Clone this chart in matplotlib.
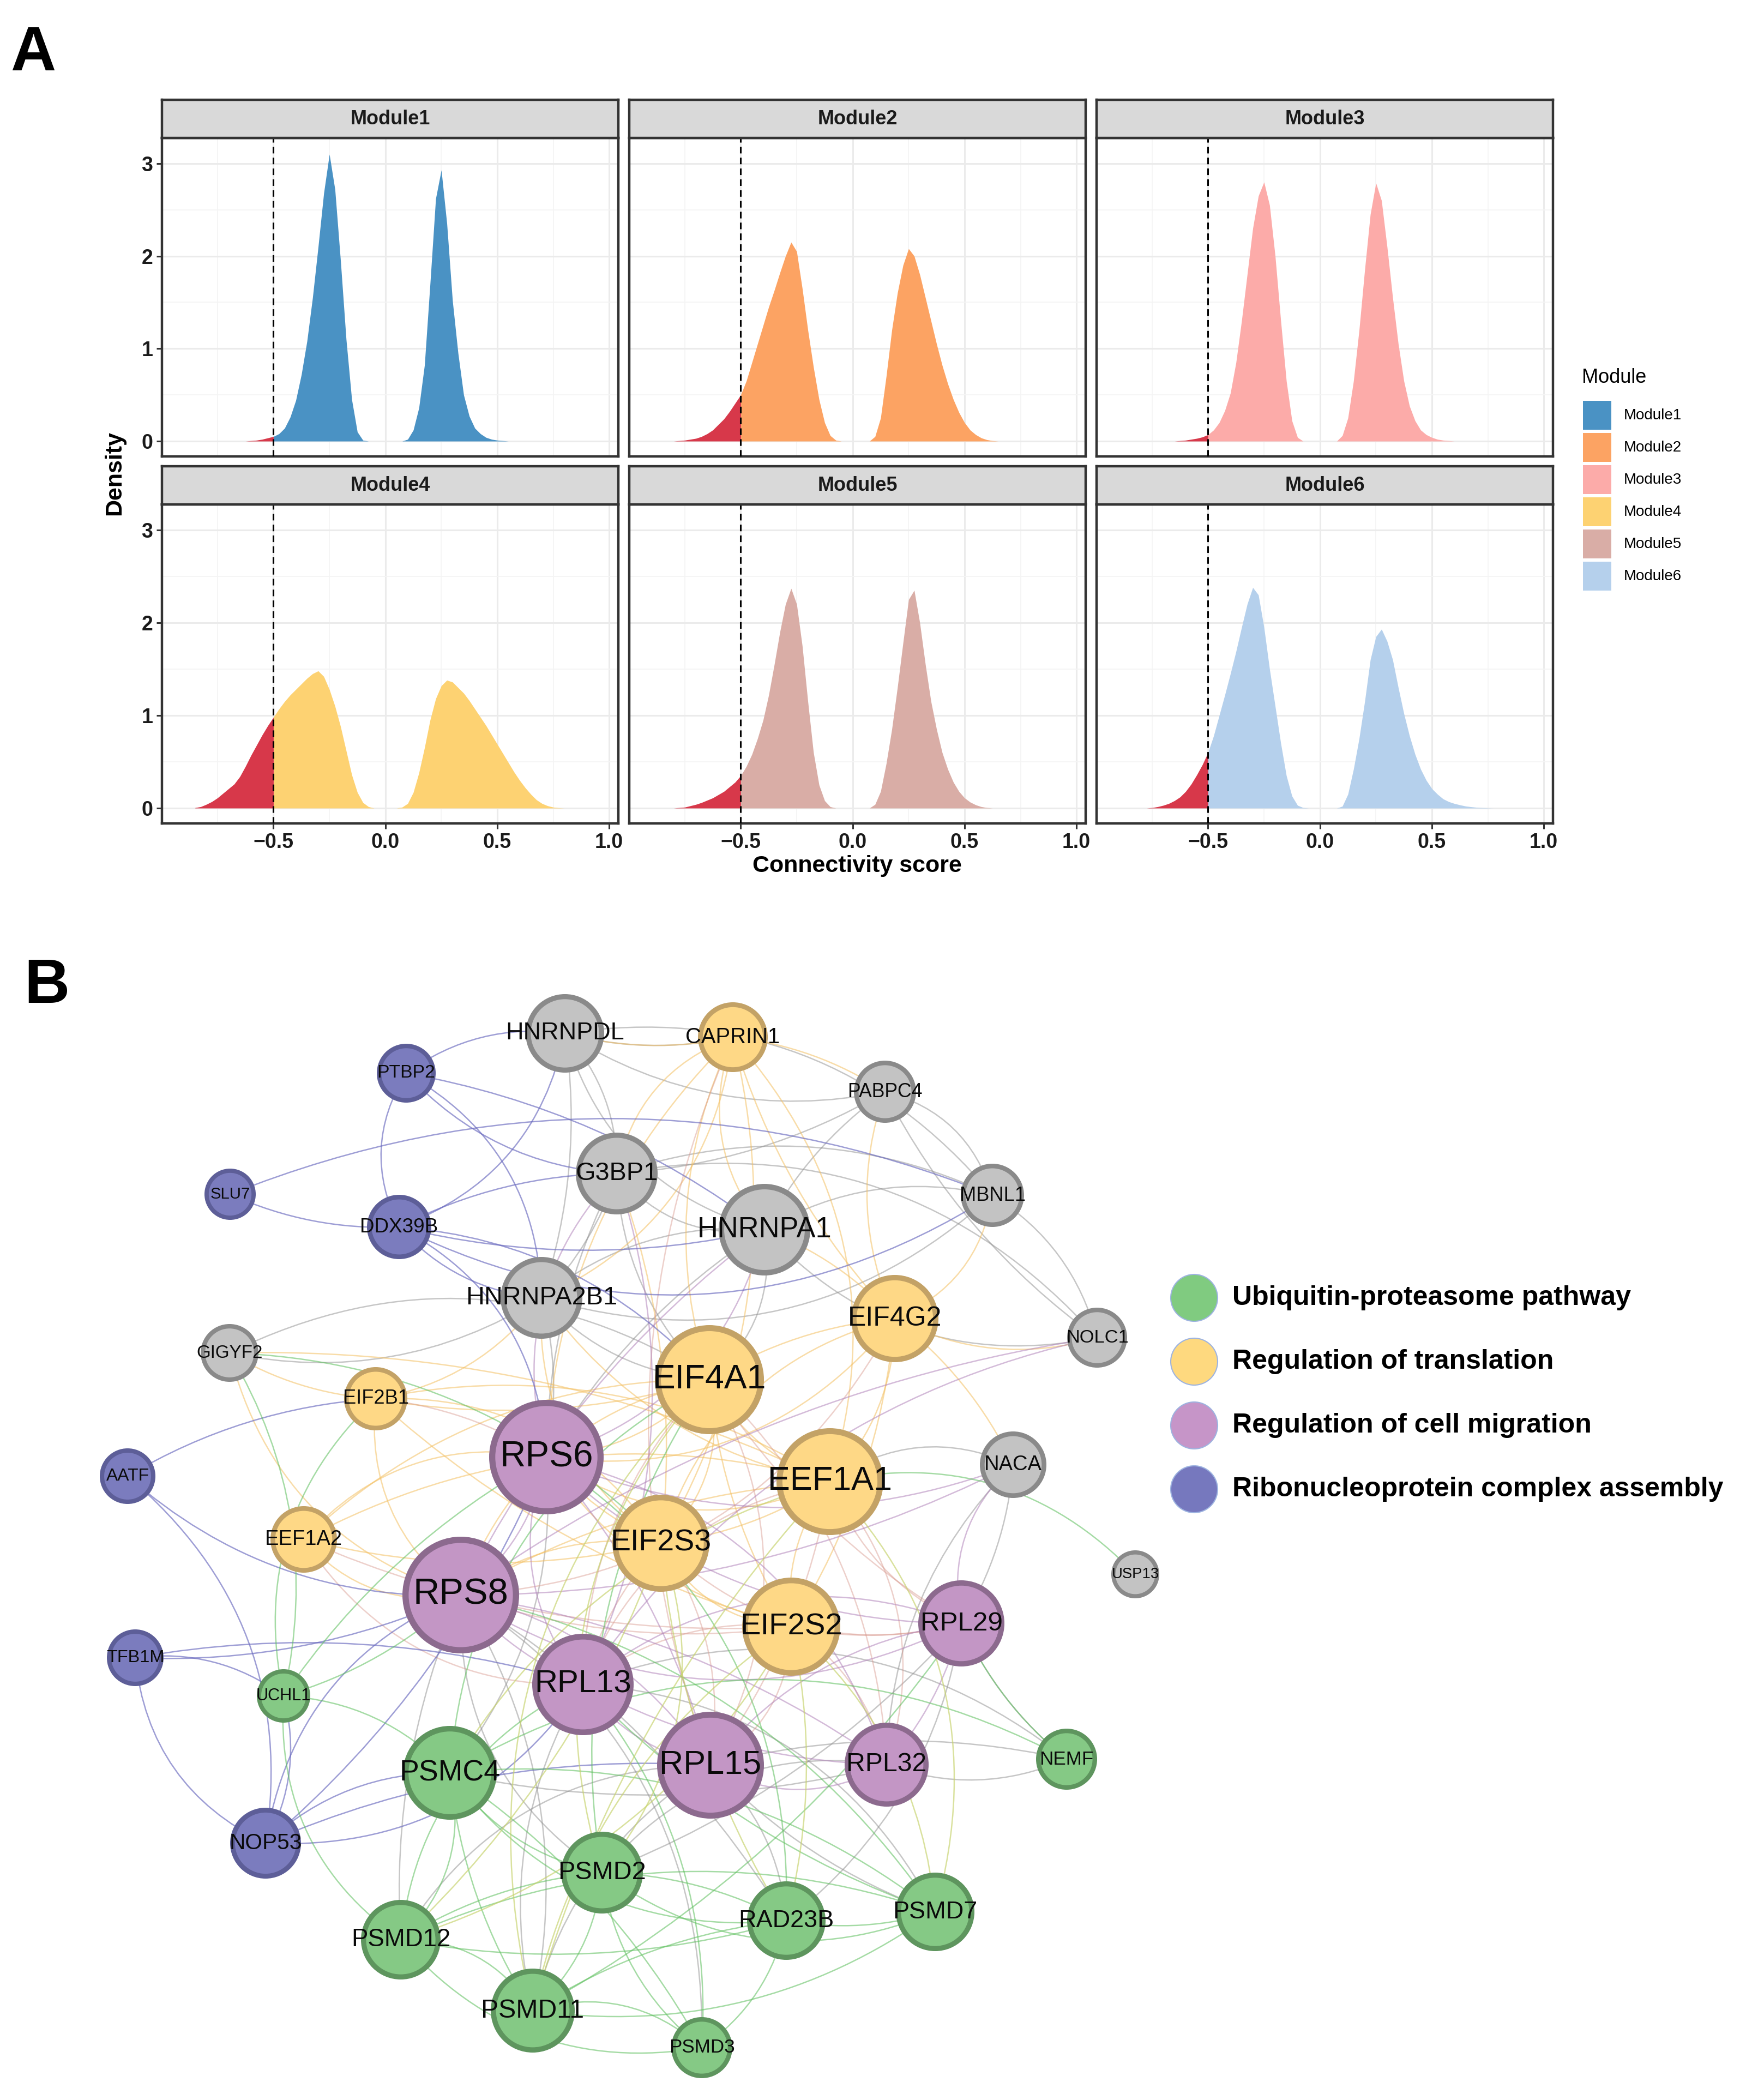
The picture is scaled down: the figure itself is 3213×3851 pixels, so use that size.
import numpy as np
import matplotlib
matplotlib.use("Agg")
import matplotlib.pyplot as plt
from matplotlib.patches import Circle, FancyArrowPatch, Rectangle

plt.rcParams['font.family'] = ['Liberation Sans', 'DejaVu Sans']

W, H = 3213, 3851
fig = plt.figure(figsize=(W / 100, H / 100), dpi=100)

# ------------------------------------------------------------------ data A
score_grid = np.linspace(-0.85, 0.80, 67)
modules = ["Module1", "Module2", "Module3", "Module4", "Module5", "Module6"]
module_colors = ["#4A92C4", "#FCA363", "#FCABA9", "#FDD272", "#D9ADA6", "#B5D0EC"]
threshold = -0.5
tail_color = "#D7384A"

dens_m1 = [0, 0, 0, 0, 0, 0, 0, 0, 0, 0,
           0.005, 0.01, 0.02, 0.035, 0.05, 0.08, 0.14, 0.26, 0.44, 0.72,
           1.08, 1.55, 2.10, 2.68, 3.10, 2.72, 1.95, 1.10, 0.45, 0.10,
           0.01, 0, 0, 0, 0, 0, 0, 0, 0.02, 0.12,
           0.36, 0.82, 1.70, 2.62, 2.93, 2.35, 1.52, 0.95, 0.50, 0.27,
           0.14, 0.08, 0.04, 0.02, 0.01, 0.005, 0, 0, 0, 0,
           0, 0, 0, 0, 0, 0, 0]
dens_m2 = [0, 0, 0, 0.005, 0.01, 0.02, 0.03, 0.05, 0.08, 0.12,
           0.18, 0.24, 0.32, 0.41, 0.50, 0.65, 0.85, 1.05, 1.25, 1.45,
           1.63, 1.82, 2.00, 2.15, 2.05, 1.65, 1.20, 0.80, 0.45, 0.20,
           0.06, 0.01, 0, 0, 0, 0, 0, 0, 0.05, 0.25,
           0.70, 1.20, 1.60, 1.90, 2.08, 2.00, 1.80, 1.55, 1.30, 1.05,
           0.82, 0.62, 0.45, 0.31, 0.20, 0.12, 0.07, 0.035, 0.015, 0.005,
           0, 0, 0, 0, 0, 0, 0]
dens_m3 = [0, 0, 0, 0, 0, 0, 0, 0, 0, 0.005,
           0.01, 0.02, 0.03, 0.045, 0.07, 0.12, 0.20, 0.33, 0.52, 0.85,
           1.30, 1.80, 2.30, 2.65, 2.80, 2.55, 2.00, 1.30, 0.65, 0.22,
           0.04, 0, 0, 0, 0, 0, 0, 0, 0.06, 0.25,
           0.65, 1.20, 1.85, 2.45, 2.79, 2.60, 2.10, 1.55, 1.05, 0.65,
           0.38, 0.22, 0.12, 0.07, 0.04, 0.02, 0.01, 0.005, 0, 0,
           0, 0, 0, 0, 0, 0, 0]
dens_m4 = [0.005, 0.015, 0.04, 0.07, 0.11, 0.16, 0.21, 0.26, 0.34, 0.45,
           0.57, 0.68, 0.79, 0.89, 0.98, 1.07, 1.15, 1.22, 1.28, 1.34,
           1.40, 1.45, 1.48, 1.42, 1.28, 1.10, 0.88, 0.62, 0.36, 0.17,
           0.06, 0.015, 0, 0, 0, 0, 0, 0.01, 0.05, 0.17,
           0.38, 0.65, 0.95, 1.18, 1.32, 1.38, 1.36, 1.30, 1.24, 1.16,
           1.07, 0.98, 0.89, 0.79, 0.69, 0.59, 0.49, 0.39, 0.30, 0.22,
           0.15, 0.09, 0.05, 0.025, 0.01, 0.003, 0]
dens_m5 = [0, 0, 0, 0.005, 0.01, 0.025, 0.04, 0.06, 0.085, 0.11,
           0.145, 0.18, 0.23, 0.28, 0.35, 0.45, 0.58, 0.75, 0.95, 1.22,
           1.55, 1.90, 2.20, 2.37, 2.20, 1.75, 1.15, 0.60, 0.25, 0.08,
           0.015, 0, 0, 0, 0, 0, 0, 0, 0.04, 0.18,
           0.48, 0.85, 1.30, 1.78, 2.25, 2.35, 2.00, 1.55, 1.15, 0.85,
           0.60, 0.42, 0.28, 0.18, 0.11, 0.065, 0.035, 0.015, 0.005, 0,
           0, 0, 0, 0, 0, 0, 0]
dens_m6 = [0, 0, 0, 0, 0.005, 0.015, 0.03, 0.05, 0.08, 0.12,
           0.18, 0.26, 0.36, 0.47, 0.60, 0.78, 1.00, 1.22, 1.45, 1.69,
           1.95, 2.20, 2.38, 2.30, 1.95, 1.50, 1.10, 0.70, 0.35, 0.13,
           0.03, 0.005, 0, 0, 0, 0, 0, 0, 0.02, 0.15,
           0.42, 0.75, 1.15, 1.60, 1.85, 1.93, 1.80, 1.60, 1.30, 1.02,
           0.78, 0.58, 0.42, 0.30, 0.21, 0.15, 0.10, 0.07, 0.05, 0.035,
           0.022, 0.014, 0.008, 0.004, 0.002, 0, 0]
densities = [dens_m1, dens_m2, dens_m3, dens_m4, dens_m5, dens_m6]

x_ticks = [-0.5, 0.0, 0.5, 1.0]
x_tick_labels = ["\u22120.5", "0.0", "0.5", "1.0"]
y_ticks = [0, 1, 2, 3]
y_tick_labels = ["0", "1", "2", "3"]

# ------------------------------------------------------------------ data B
node_names = ["HNRNPDL", "CAPRIN1", "PTBP2", "PABPC4", "SLU7", "G3BP1", "MBNL1",
              "HNRNPA1", "DDX39B", "HNRNPA2B1", "EIF4G2", "NOLC1", "GIGYF2",
              "EIF4A1", "EIF2B1", "RPS6", "NACA", "EEF1A1", "AATF", "EEF1A2",
              "EIF2S3", "USP13", "RPS8", "EIF2S2", "RPL29", "TFB1M", "UCHL1",
              "RPL13", "RPL15", "RPL32", "NEMF", "PSMC4", "NOP53", "PSMD2",
              "PSMD12", "RAD23B", "PSMD7", "PSMD11", "PSMD3"]
node_x = [1036, 1344, 745, 1623, 422, 1131, 1820, 1402, 732, 993, 1641, 2012, 421,
          1301, 689, 1002, 1858, 1522, 234, 557, 1212, 2082, 845, 1451, 1763,
          248, 520, 1069, 1303, 1626, 1956, 825, 487, 1104, 735, 1442, 1715,
          977, 1287]
node_y = [1895, 1902, 1968, 2002, 2190, 2152, 2192, 2255, 2250, 2380, 2418, 2453,
          2481, 2530, 2565, 2672, 2686, 2717, 2707, 2823, 2830, 2887, 2925, 2983,
          2977, 3040, 3110, 3089, 3237, 3236, 3226, 3251, 3380, 3434, 3557, 3522,
          3506, 3687, 3755]
node_size = [72, 64, 54, 57, 47, 75, 58, 84, 59, 75, 80, 55, 53, 100, 58, 105, 61,
             98, 51, 61, 89, 44, 107, 90, 79, 52, 49, 93, 98, 77, 56, 86, 65, 75,
             73, 72, 72, 77, 56]
node_group = ["other", "trans", "rnp", "other", "rnp", "other", "other", "other",
              "rnp", "other", "trans", "other", "other", "trans", "trans", "mig",
              "other", "trans", "rnp", "trans", "trans", "other", "mig", "trans",
              "mig", "rnp", "ubi", "mig", "mig", "mig", "ubi", "ubi", "rnp", "ubi",
              "ubi", "ubi", "ubi", "ubi", "ubi"]

edges_gray = [
    ("HNRNPDL", "CAPRIN1"), ("HNRNPDL", "G3BP1"), ("HNRNPDL", "HNRNPA1"),
    ("HNRNPDL", "HNRNPA2B1"), ("HNRNPDL", "PABPC4"), ("HNRNPDL", "MBNL1"),
    ("G3BP1", "PABPC4"), ("G3BP1", "MBNL1"), ("G3BP1", "HNRNPA1"),
    ("G3BP1", "HNRNPA2B1"), ("G3BP1", "EIF4A1"), ("G3BP1", "NOLC1"), ("G3BP1", "RPS6"),
    ("HNRNPA1", "MBNL1"), ("HNRNPA1", "NOLC1"), ("HNRNPA1", "PABPC4"),
    ("HNRNPA1", "HNRNPA2B1"), ("HNRNPA1", "EIF4A1"), ("HNRNPA1", "RPS6"),
    ("HNRNPA2B1", "GIGYF2"), ("HNRNPA2B1", "MBNL1"), ("HNRNPA2B1", "RPS6"),
    ("HNRNPA2B1", "EIF4A1"), ("PABPC4", "MBNL1"), ("PABPC4", "NOLC1"), ("MBNL1", "NOLC1"),
    ("NACA", "EEF1A1"), ("NACA", "RPL29"), ("NACA", "RPL32"), ("GIGYF2", "EIF4A1"),
    ("RPS8", "PSMD12"), ("RPS8", "PSMD11"), ("RPS8", "PSMD2"), ("RPS8", "RAD23B"),
    ("RPL13", "PSMD11"), ("RPL13", "PSMD7"), ("RPL15", "PSMD7"), ("RPL15", "RAD23B"),
    ("RPL15", "PSMD12"), ("RPL15", "NEMF"), ("RPL32", "NEMF"), ("RPL13", "NEMF"),
    ("RPL29", "NEMF"), ("RPS6", "PSMC4"), ("RPL32", "PSMD2"), ("RPL29", "PSMD2"),
    ("RPL15", "PSMD11"), ("RPS8", "PSMD3"), ("PSMC4", "RPL32"), ("RPL29", "RAD23B"),
]
edges_yellow = [
    ("CAPRIN1", "G3BP1"), ("CAPRIN1", "HNRNPDL"), ("CAPRIN1", "EIF4A1"),
    ("CAPRIN1", "EEF1A1"), ("CAPRIN1", "EIF4G2"), ("CAPRIN1", "EIF2S3"),
    ("CAPRIN1", "HNRNPA1"), ("CAPRIN1", "PABPC4"), ("CAPRIN1", "RPS6"),
    ("CAPRIN1", "HNRNPA2B1"), ("EIF4G2", "EIF4A1"), ("EIF4G2", "EEF1A1"),
    ("EIF4G2", "EIF2S3"), ("EIF4G2", "EIF2S2"), ("EIF4G2", "NOLC1"), ("EIF4G2", "RPS6"),
    ("EIF4G2", "HNRNPA1"), ("EIF4G2", "PABPC4"), ("EIF4G2", "MBNL1"), ("EIF4G2", "NACA"),
    ("EIF4A1", "EEF1A1"), ("EIF4A1", "EIF2S3"), ("EIF4A1", "EIF2S2"), ("EIF4A1", "RPS6"),
    ("EIF4A1", "RPS8"), ("EIF4A1", "EIF2B1"), ("EIF4A1", "EEF1A2"),
    ("EIF2B1", "EIF2S3"), ("EIF2B1", "EIF2S2"), ("EIF2B1", "EEF1A1"), ("EIF2B1", "RPS8"),
    ("EIF2B1", "GIGYF2"), ("EIF2B1", "HNRNPA2B1"), ("EEF1A2", "RPS6"),
    ("EEF1A2", "EIF2S3"), ("EEF1A2", "EEF1A1"), ("EEF1A2", "RPS8"),
    ("EEF1A1", "EIF2S3"), ("EEF1A1", "EIF2S2"), ("EEF1A1", "RPS6"), ("EEF1A1", "RPS8"),
    ("EEF1A1", "HNRNPA2B1"), ("EIF2S3", "EIF2S2"), ("EIF2S3", "RPS6"),
    ("EIF2S3", "RPS8"), ("EIF2S3", "HNRNPA2B1"), ("EIF2S3", "G3BP1"),
    ("EIF2S2", "RPS6"), ("GIGYF2", "RPS8"), ("GIGYF2", "EEF1A1"),
]
edges_rose = [
    ("EIF4A1", "RPL13"), ("EIF4A1", "RPL15"), ("EIF4A1", "RPL29"), ("EIF4A1", "RPL32"),
    ("EEF1A1", "RPL13"), ("EEF1A1", "RPL15"), ("EEF1A1", "RPL29"), ("EEF1A1", "RPL32"),
    ("EIF2S3", "RPL13"), ("EIF2S3", "RPL15"), ("EIF2S3", "RPL29"),
    ("EIF2S2", "RPS8"), ("EIF2S2", "RPL13"), ("EIF2S2", "RPL15"), ("EIF2S2", "RPL29"),
    ("EIF2S2", "RPL32"), ("EEF1A2", "RPL13"), ("EIF2B1", "RPS6"), ("CAPRIN1", "RPL15"),
    ("EIF4G2", "RPS8"), ("EEF1A2", "EIF2S2"),
]
edges_pink = [
    ("RPS6", "RPS8"), ("RPS6", "RPL13"), ("RPS6", "RPL15"), ("RPS6", "RPL29"),
    ("RPS6", "RPL32"), ("RPS8", "RPL13"), ("RPS8", "RPL15"), ("RPS8", "RPL29"),
    ("RPS8", "RPL32"), ("RPL13", "RPL15"), ("RPL13", "RPL29"), ("RPL13", "RPL32"),
    ("RPL15", "RPL29"), ("RPL15", "RPL32"), ("RPL29", "RPL32"), ("RPS6", "NACA"),
    ("RPL29", "NACA"), ("RPS8", "NACA"), ("RPL13", "NOLC1"), ("RPS6", "HNRNPA1"),
    ("RPS8", "HNRNPA1"), ("RPL13", "G3BP1"), ("RPS6", "G3BP1"), ("NOLC1", "RPS8"),
]
edges_blue = [
    ("PTBP2", "HNRNPDL"), ("PTBP2", "DDX39B"), ("PTBP2", "HNRNPA1"), ("PTBP2", "G3BP1"),
    ("PTBP2", "HNRNPA2B1"), ("SLU7", "DDX39B"), ("SLU7", "MBNL1"),
    ("DDX39B", "HNRNPDL"), ("DDX39B", "G3BP1"), ("DDX39B", "HNRNPA2B1"),
    ("DDX39B", "RPS6"), ("DDX39B", "HNRNPA1"), ("DDX39B", "EIF4A1"), ("DDX39B", "MBNL1"),
    ("AATF", "EIF2B1"), ("AATF", "RPS8"), ("AATF", "NOP53"),
    ("TFB1M", "RPS8"), ("TFB1M", "UCHL1"), ("TFB1M", "NOP53"), ("TFB1M", "RPL13"),
    ("NOP53", "UCHL1"), ("NOP53", "RPS8"), ("NOP53", "RPS6"), ("NOP53", "PSMC4"),
    ("NOP53", "RPL13"), ("NOP53", "RPL15"),
]
edges_green = [
    ("PSMC4", "PSMD2"), ("PSMC4", "PSMD12"), ("PSMC4", "PSMD11"), ("PSMC4", "PSMD7"),
    ("PSMC4", "RAD23B"), ("PSMC4", "PSMD3"), ("PSMC4", "UCHL1"), ("PSMC4", "NEMF"),
    ("PSMD2", "PSMD12"), ("PSMD2", "PSMD11"), ("PSMD2", "PSMD7"), ("PSMD2", "RAD23B"),
    ("PSMD2", "PSMD3"), ("PSMD12", "PSMD11"), ("PSMD12", "RAD23B"), ("PSMD12", "PSMD7"),
    ("PSMD12", "PSMD3"), ("PSMD11", "RAD23B"), ("PSMD11", "PSMD7"), ("PSMD11", "PSMD3"),
    ("RAD23B", "PSMD7"), ("RAD23B", "PSMD3"), ("UCHL1", "PSMD12"), ("UCHL1", "RPS6"),
    ("UCHL1", "GIGYF2"), ("UCHL1", "EIF2B1"), ("UCHL1", "RPS8"), ("GIGYF2", "EIF2S3"),
    ("USP13", "EEF1A1"), ("NEMF", "RPL29"), ("PSMD7", "RPS8"), ("PSMD12", "RPL13"),
    ("PSMD11", "RPL29"), ("PSMD2", "EIF4A1"), ("RAD23B", "RPS6"), ("PSMD7", "RPL13"),
    ("PSMD3", "RPL13"), ("PSMC4", "EIF4A1"),
]
edges_olive = [
    ("EEF1A1", "PSMD11"), ("EIF2S2", "PSMD7"), ("EIF4A1", "PSMD2"), ("EIF2S3", "PSMD12"),
    ("EIF2S2", "PSMD11"), ("EEF1A1", "PSMD7"), ("EIF2S3", "RAD23B"), ("EIF2S2", "PSMD12"),
    ("EIF4A1", "PSMD11"), ("EIF2S2", "RAD23B"), ("EEF1A1", "PSMC4"), ("EIF2S3", "PSMD2"),
]

legend_groups = ["ubi", "trans", "mig", "rnp"]
legend_labels = ["Ubiquitin-proteasome pathway", "Regulation of translation",
                 "Regulation of cell migration", "Ribonucleoprotein complex assembly"]

# ------------------------------------------------------------------ styles
group_fill = {"other": "#C3C3C3", "trans": "#FED886", "mig": "#C396C5",
              "rnp": "#7B7CBE", "ubi": "#85C985"}
group_edge = {"other": "#8A8A8A", "trans": "#C3A266", "mig": "#8C6A8E",
              "rnp": "#5D5E98", "ubi": "#5E955E"}
legend_fill = {"ubi": "#80CB80", "trans": "#FED97F", "mig": "#C695C8", "rnp": "#7678BE"}
edge_styles = [(edges_gray, "#8F8F8F", 0.5), (edges_yellow, "#F4C062", 0.55),
               (edges_rose, "#D8978C", 0.45), (edges_pink, "#B184BA", 0.55),
               (edges_blue, "#6A6ABF", 0.65), (edges_green, "#5CBF5C", 0.55),
               (edges_olive, "#C6D26A", 0.65)]

# ------------------------------------------------------------------ overlay axes (pixel coordinates)
ov = fig.add_axes([0, 0, 1, 1])
ov.set_xlim(0, W)
ov.set_ylim(H, 0)
ov.axis("off")
ov.patch.set_visible(False)


def px_axes(x0, y0, x1, y1):
    return fig.add_axes([x0 / W, 1 - y1 / H, (x1 - x0) / W, (y1 - y0) / H])


# ------------------------------------------------------------------ panel A
cols = [(297, 1134), (1154, 1991), (2011, 2848)]
rows = [(183, 253, 837), (855, 925, 1510)]
xg = np.asarray(score_grid)
for i, name in enumerate(modules):
    r, c = divmod(i, 3)
    cx0, cx1 = cols[c]
    st, sb, pb = rows[r]
    ax = px_axes(cx0, sb, cx1, pb)
    ax.set_xlim(-0.998, 1.041)
    ax.set_ylim(-0.165, 3.276)
    y = np.asarray(densities[i])
    left = xg <= threshold + 1e-9
    right = xg >= threshold - 1e-9
    ax.fill_between(xg[right], 0, y[right], color=module_colors[i], lw=0, zorder=2)
    ax.fill_between(xg[left], 0, y[left], color=tail_color, lw=0, zorder=2)
    ax.axvline(threshold, color="black", lw=2.2, ls=(0, (4, 2.5)), zorder=3)
    ax.set_xticks(x_ticks)
    ax.set_xticks([-0.75, -0.25, 0.25, 0.75], minor=True)
    ax.set_yticks(y_ticks)
    ax.set_yticks([0.5, 1.5, 2.5], minor=True)
    ax.grid(which="major", color="#EBEBEB", lw=2.2, zorder=0)
    ax.grid(which="minor", color="#F4F4F4", lw=1.3, zorder=0)
    ax.set_axisbelow(True)
    for sp in ax.spines.values():
        sp.set_color("#333333")
        sp.set_linewidth(3.2)
    ax.tick_params(which="minor", length=0)
    ax.tick_params(which="major", length=7, width=2.2, color="#333333", pad=5)
    if c == 0:
        ax.set_yticklabels(y_tick_labels, fontsize=27, fontweight="bold", color="#1A1A1A")
    else:
        ax.tick_params(axis="y", left=False, labelleft=False)
    if r == 1:
        ax.set_xticklabels(x_tick_labels, fontsize=27, fontweight="bold", color="#1A1A1A")
    else:
        ax.tick_params(axis="x", bottom=False, labelbottom=False)
    sax = px_axes(cx0, st, cx1, sb)
    sax.set_facecolor("#D9D9D9")
    sax.set_xticks([])
    sax.set_yticks([])
    for sp in sax.spines.values():
        sp.set_color("#333333")
        sp.set_linewidth(3.2)
    sax.text(0.5, 0.5, name, transform=sax.transAxes, ha="center", va="center",
             fontsize=26, fontweight="bold", color="#1A1A1A")

ov.text(210, 868, "Density", rotation=90, ha="center", va="center",
        fontsize=31, fontweight="bold")
ov.text(1572, 1588, "Connectivity score", ha="center", va="center",
        fontsize=31, fontweight="bold")
ov.text(19, 129, "A", ha="left", va="baseline", fontsize=83, fontweight="bold")

# legend A
ov.text(2901, 692, "Module", ha="left", va="center", fontsize=26)
for k, (name, col) in enumerate(zip(modules, module_colors)):
    top = 735 + 59 * k
    ov.add_patch(Rectangle((2903, top), 52, 53, facecolor=col, edgecolor="none"))
    ov.text(2978, top + 27, name, ha="left", va="center", fontsize=20)

# ------------------------------------------------------------------ panel B
ov.text(44, 1839, "B", ha="left", va="baseline", fontsize=83, fontweight="bold")
idx = {n: k for k, n in enumerate(node_names)}
counter = 0
for elist, col, alpha in edge_styles:
    for a, b in elist:
        ia, ib = idx[a], idx[b]
        mag = [0.12, 0.2, 0.28][counter % 3]
        rad = mag if counter % 2 == 0 else -mag
        counter += 1
        p = FancyArrowPatch((node_x[ia], node_y[ia]), (node_x[ib], node_y[ib]),
                            connectionstyle=f"arc3,rad={rad}", arrowstyle="-",
                            color=col, alpha=alpha, lw=1.8, shrinkA=0, shrinkB=0,
                            zorder=1)
        ov.add_patch(p)

for k, n in enumerate(node_names):
    r = node_size[k]
    g = node_group[k]
    bpx = 5 + 0.06 * r
    ov.add_patch(Circle((node_x[k], node_y[k]), r - bpx / 2, facecolor=group_fill[g],
                        edgecolor=group_edge[g], lw=bpx / 1.389, zorder=3))
    ov.text(node_x[k], node_y[k], n, ha="center", va="center", fontsize=0.45 * r,
            color="#0A0A0A", zorder=4)

for k, (g, lab) in enumerate(zip(legend_groups, legend_labels)):
    cy = 2380 + 117 * k
    ov.add_patch(Circle((2190, cy), 43, facecolor=legend_fill[g], edgecolor="#9DB3E0",
                        lw=1.5, zorder=3))
    ov.text(2260, cy, lab, ha="left", va="center", fontsize=36, fontweight="bold")

fig.savefig("out.png", dpi=100)
